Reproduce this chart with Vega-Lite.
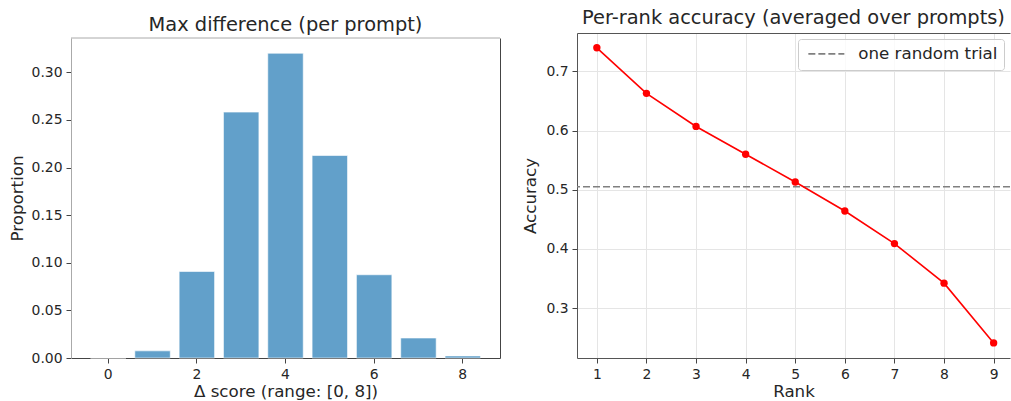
{
  "$schema": "https://vega.github.io/schema/vega-lite/v6.json",
  "padding": {"left": 9, "top": 7, "right": 0, "bottom": 0},
  "spacing": 21,
  "resolve": {"scale": {"color": "independent"}, "legend": {"color": "independent"}},
  "datasets": {
    "maxdiff": [
      {"delta": 0, "proportion": 0.0},
      {"delta": 1, "proportion": 0.0075},
      {"delta": 2, "proportion": 0.0908},
      {"delta": 3, "proportion": 0.2582},
      {"delta": 4, "proportion": 0.3200},
      {"delta": 5, "proportion": 0.2126},
      {"delta": 6, "proportion": 0.0874},
      {"delta": 7, "proportion": 0.0210},
      {"delta": 8, "proportion": 0.0022}
    ],
    "perrank": [
      {"rank": 1, "accuracy": 0.740},
      {"rank": 2, "accuracy": 0.663},
      {"rank": 3, "accuracy": 0.607},
      {"rank": 4, "accuracy": 0.560},
      {"rank": 5, "accuracy": 0.513},
      {"rank": 6, "accuracy": 0.464},
      {"rank": 7, "accuracy": 0.409},
      {"rank": 8, "accuracy": 0.342},
      {"rank": 9, "accuracy": 0.241}
    ],
    "baseline": [
      {"label": "one random trial", "accuracy": 0.505}
    ]
  },
  "config": {
    "font": "DejaVu Sans",
    "view": {"stroke": null},
    "axis": {
      "labelFont": "DejaVu Sans",
      "labelFontSize": 13.9,
      "labelColor": "#262626",
      "titleFont": "DejaVu Sans",
      "titleFontSize": 16.7,
      "titleFontWeight": "normal",
      "titleColor": "#262626",
      "tickColor": "#444444",
      "tickSize": 5,
      "labelPadding": 4,
      "domain": true,
      "domainColor": "#444444",
      "grid": false,
      "labelFlush": false,
      "labelOverlap": false
    },
    "title": {"font": "DejaVu Sans", "fontSize": 19.4, "fontWeight": "normal", "color": "#262626"}
  },
  "hconcat": [
    {
      "width": 429,
      "height": 325,
      "title": {"text": "Max difference (per prompt)", "offset": 3, "dy": 5},
      "layer": [
        {
          "data": {"name": "maxdiff"},
          "mark": {"type": "bar", "color": "#62a0ca", "stroke": "white", "strokeWidth": 0.6},
          "encoding": {
            "x": {
              "field": "delta",
              "type": "ordinal",
              "scale": {"type": "band", "paddingInner": 0.2, "paddingOuter": 0.44},
              "axis": {"values": [0, 2, 4, 6, 8], "labelAngle": 0, "title": "Δ score (range: [0, 8])", "titlePadding": 3, "bandPosition": 0.5}
            },
            "y": {
              "field": "proportion",
              "type": "quantitative",
              "scale": {"domain": [0, 0.336], "nice": false, "range": [325, 5]},
              "axis": {"values": [0, 0.05, 0.1, 0.15, 0.2, 0.25, 0.3], "format": ".2f", "title": "Proportion", "titlePadding": 5, "domainColor": "#aaaaaa"}
            }
          }
        },
        {
          "data": {"values": [{}]},
          "mark": {"type": "rule", "color": "#aaaaaa", "strokeWidth": 1},
          "encoding": {
            "y": {
              "datum": 0.336,
              "type": "quantitative",
              "axis": {"orient": "right", "labels": false, "ticks": false, "title": null, "grid": false, "domain": true, "domainColor": "#444444"}
            }
          }
        }
      ],
      "resolve": {"axis": {"y": "independent"}}
    },
    {
      "width": 433,
      "height": 325,
      "title": {"text": "Per-rank accuracy (averaged over prompts)", "offset": 5},
      "encoding": {
        "y": {
          "field": "accuracy",
          "type": "quantitative",
          "scale": {"domain": [0.2155, 0.765], "nice": false, "zero": false},
          "axis": {"values": [0.3, 0.4, 0.5, 0.6, 0.7], "format": ".1f", "title": "Accuracy", "titlePadding": 6, "grid": true, "gridColor": "#e5e5e5", "domainColor": "#555555"}
        }
      },
      "layer": [
        {
          "data": {"name": "baseline"},
          "mark": {"type": "rule", "strokeDash": [7, 3], "strokeWidth": 1.6},
          "encoding": {
            "color": {
              "field": "label",
              "type": "nominal",
              "scale": {"range": ["#808080"]},
              "legend": {
                "title": null,
                "orient": "top-right",
                "offset": 6,
                "symbolType": "M-1,0H7",
                "symbolSize": 81,
                "symbolStrokeWidth": 1.6,
                "symbolDash": [7, 3],
                "labelFont": "DejaVu Sans",
                "labelFontSize": 16.7,
                "labelColor": "#262626",
                "labelOffset": 37,
                "padding": 6.5,
                "fillColor": "rgba(255,255,255,0.8)",
                "strokeColor": "#cccccc",
                "cornerRadius": 3
              }
            }
          }
        },
        {
          "data": {"name": "perrank"},
          "mark": {"type": "line", "color": "red", "strokeWidth": 1.6},
          "encoding": {
            "x": {
              "field": "rank",
              "type": "quantitative",
              "scale": {"domain": [0.6, 9.33], "nice": false, "zero": false},
              "axis": {"orient": "top", "labels": false, "ticks": false, "title": null, "grid": false, "domainColor": "#555555"}
            }
          }
        },
        {
          "data": {"name": "perrank"},
          "mark": {"type": "point", "filled": true, "color": "red", "size": 54, "opacity": 1},
          "encoding": {
            "x": {
              "field": "rank",
              "type": "quantitative",
              "scale": {"domain": [0.6, 9.33], "nice": false, "zero": false},
              "axis": {"values": [1, 2, 3, 4, 5, 6, 7, 8, 9], "format": "d", "title": "Rank", "titlePadding": 3, "grid": true, "gridColor": "#e5e5e5", "domainColor": "#555555"}
            }
          }
        }
      ],
      "resolve": {"axis": {"x": "independent"}}
    }
  ]
}
